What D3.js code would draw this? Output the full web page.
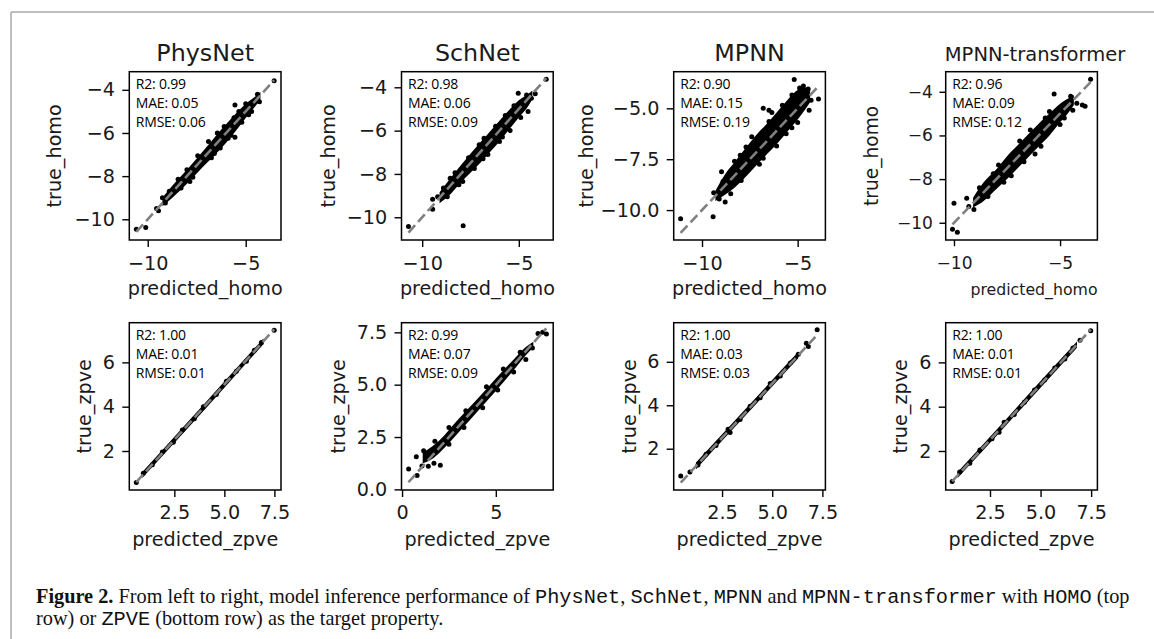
<!DOCTYPE html>
<html>
<head>
<meta charset="utf-8">
<script src="https://cdn.jsdelivr.net/npm/d3@7"></script>
<style>
  body { margin: 0; background: #fff; }
  svg { display: block; }
</style>
</head>
<body>
<svg id="fig" width="1154" height="639"></svg>
<script>
// ---------------- data ----------------
const models = ["PhysNet", "SchNet", "MPNN", "MPNN-transformer"];

// summary metrics per model
const homoR2 = [0.99, 0.98, 0.90, 0.96];
const homoMAE = [0.05, 0.06, 0.15, 0.09];
const homoRMSE = [0.06, 0.09, 0.19, 0.12];
const zpveR2 = [1.00, 0.99, 1.00, 1.00];
const zpveMAE = [0.01, 0.07, 0.03, 0.01];
const zpveRMSE = [0.01, 0.09, 0.03, 0.01];

// axis ranges and ticks
const homoXDomains = [[-10.94, -3.2], [-11.07, -3.22], [-11.48, -3.55], [-10.39, -3.24]];
const homoYDomains = [[-10.96, -3.16], [-11.05, -3.28], [-11.47, -3.2], [-10.79, -3.08]];
const homoXTicks = [[-10, -5], [-10, -5], [-10, -5], [-10, -5]];
const homoYTicks = [[-10, -8, -6, -4], [-10, -8, -6, -4], [-10, -7.5, -5], [-10, -8, -6, -4]];
const zpveXDomains = [[0.25, 7.83], [-0.03, 8.06], [0.09, 7.65], [0.31, 7.81]];
const zpveYDomains = [[0.24, 7.79], [-0.03, 7.96], [0.1, 7.8], [0.24, 7.79]];
const zpveXTicks = [[2.5, 5.0, 7.5], [0, 5], [2.5, 5.0, 7.5], [2.5, 5.0, 7.5]];
const zpveYTicks = [[2, 4, 6], [0, 2.5, 5.0, 7.5], [2, 4, 6], [2, 4, 6]];

// y = x reference segments [from, to]
const homoDiag = [[-10.58, -3.55], [-10.71, -3.58], [-11.12, -3.91], [-10.07, -3.56]];
const zpveDiag = [[0.6, 7.49], [0.34, 7.69], [0.44, 7.3], [0.63, 7.48]];

// dense cores of the predicted/true clouds: [predicted, true low, true high]
const physnetHomoCore = [[-9.25, -9.4, -9.0], [-8.8, -9.05, -8.5], [-8.0, -8.35, -7.7], [-7.0, -7.4, -6.65],
  [-6.5, -6.95, -6.1], [-6.0, -6.45, -5.6], [-5.5, -5.9, -5.1], [-5.0, -5.3, -4.65], [-4.5, -4.75, -4.3], [-4.25, -4.45, -4.1]];
const schnetHomoCore = [[-9.1, -9.35, -8.85], [-8.5, -8.9, -8.15], [-8.0, -8.4, -7.6], [-7.0, -7.5, -6.55],
  [-6.5, -7.0, -6.05], [-6.0, -6.5, -5.55], [-5.5, -5.95, -5.05], [-5.0, -5.4, -4.6], [-4.5, -4.85, -4.3], [-4.3, -4.55, -4.15]];
const mpnnHomoCore = [[-9.3, -9.55, -9.05], [-8.8, -9.25, -8.25], [-8.3, -8.9, -7.65], [-7.8, -8.45, -7.05], [-7.2, -7.85, -6.35],
  [-6.6, -7.25, -5.75], [-6.0, -6.65, -5.1], [-5.5, -6.1, -4.55], [-5.0, -5.55, -4.1], [-4.6, -5.05, -3.98], [-4.35, -4.7, -4.05]];
const transformerHomoCore = [[-9.1, -9.3, -8.85], [-8.6, -9.0, -8.15], [-8.0, -8.45, -7.55], [-7.5, -8.0, -6.95], [-7.0, -7.5, -6.45],
  [-6.5, -7.0, -5.95], [-6.0, -6.5, -5.45], [-5.5, -6.0, -5.0], [-5.0, -5.4, -4.55], [-4.6, -4.95, -4.3], [-4.35, -4.6, -4.15]];

const physnetZpveCore = [[0.9, 0.78, 1.05], [3.0, 2.86, 3.14], [5.0, 4.86, 5.14], [6.95, 6.82, 7.08]];
const schnetZpveCore = [[1.1, 1.25, 1.75], [1.6, 1.45, 2.05], [2.0, 1.75, 2.35], [3.0, 2.7, 3.35], [4.0, 3.7, 4.3],
  [5.0, 4.7, 5.3], [6.0, 5.75, 6.25], [6.6, 6.4, 6.8], [7.0, 6.8, 7.05]];
const mpnnZpveCore = [[1.2, 1.06, 1.36], [3.0, 2.86, 3.16], [5.0, 4.86, 5.16], [6.3, 6.16, 6.46]];
const transformerZpveCore = [[0.9, 0.78, 1.05], [3.0, 2.86, 3.14], [5.0, 4.86, 5.16], [6.8, 6.66, 6.94]];

// individual molecules along the cloud edges and outliers: [predicted, true]
const physnetHomoPts = [[-10.58, -10.46], [-10.1, -10.38], [-9.55, -9.5], [-9.45, -9.6], [-9.25, -9.0], [-9.1, -9.25],
  [-8.9, -8.7], [-8.6, -8.55], [-8.3, -8.55], [-8.0, -7.7], [-7.7, -8.05], [-7.2, -7.35], [-6.9, -6.4], [-6.6, -6.95],
  [-6.3, -6.7], [-6.1, -5.7], [-5.9, -6.25], [-5.55, -6.2], [-5.6, -5.3], [-5.55, -4.7], [-5.2, -5.5], [-5.0, -4.65],
  [-4.7, -5.0], [-4.4, -4.2], [-4.3, -4.55], [-3.55, -3.58], [-8.45, -8.15], [-7.45, -7.05], [-6.75, -7.15],
  [-6.45, -6.0], [-5.75, -6.1], [-5.35, -5.0], [-4.85, -5.15], [-7.85, -8.25]];
const schnetHomoPts = [[-10.71, -10.43], [-9.46, -9.17], [-9.46, -9.63], [-7.88, -10.39], [-9.2, -9.05], [-8.9, -8.65],
  [-8.7, -9.05], [-8.3, -7.95], [-7.9, -8.35], [-7.6, -7.25], [-7.3, -7.75], [-6.8, -6.35], [-6.6, -7.1], [-6.2, -5.8],
  [-6.0, -6.5], [-5.7, -5.3], [-5.45, -6.0], [-5.03, -4.28], [-4.9, -5.4], [-4.52, -5.12], [-4.6, -4.35], [-4.35, -4.5],
  [-4.15, -4.3], [-3.58, -3.63], [-8.55, -8.2], [-8.1, -8.5], [-7.05, -6.65], [-6.85, -7.3], [-5.85, -6.3], [-5.25, -4.85]];
const mpnnHomoPts = [[-11.12, -10.42], [-9.42, -10.33], [-9.39, -9.15], [-8.79, -9.6], [-8.98, -8.12], [-6.8, -5.0],
  [-6.5, -5.1], [-6.35, -5.2], [-5.18, -3.58], [-3.91, -4.54], [-4.9, -4.0], [-4.7, -3.9], [-4.45, -4.05], [-5.3, -4.35],
  [-7.95, -8.55], [-8.3, -7.6], [-7.4, -6.4], [-6.5, -5.65], [-6.1, -6.85], [-5.6, -6.25], [-5.0, -5.7], [-4.4, -5.1],
  [-8.0, -7.3], [-7.0, -7.75], [-8.5, -9.2], [-8.9, -8.6], [-4.3, -4.6], [-4.5, -4.4], [-7.7, -6.9], [-6.8, -7.45],
  [-5.8, -4.85], [-5.3, -5.95], [-9.1, -9.45]];
const transformerHomoPts = [[-10.07, -10.3], [-9.84, -10.44], [-10.0, -9.11], [-9.4, -8.88], [-9.06, -9.39], [-9.3, -9.25],
  [-8.8, -8.4], [-8.4, -8.8], [-7.9, -7.35], [-7.3, -7.85], [-6.9, -6.25], [-6.18, -6.85], [-6.4, -5.75], [-5.9, -6.5],
  [-5.5, -4.9], [-5.28, -4.1], [-5.0, -5.5], [-4.21, -4.53], [-3.95, -4.6], [-3.82, -4.66], [-4.5, -4.2], [-4.4, -4.85],
  [-3.56, -3.43], [-8.15, -7.75], [-7.65, -8.15], [-6.7, -7.2], [-5.7, -5.2], [-4.8, -5.2]];

const physnetZpvePts = [[0.6, 0.58], [0.95, 1.0], [1.4, 1.38], [1.9, 1.95], [2.45, 2.4], [2.9, 2.95], [3.5, 3.45],
  [3.95, 4.0], [4.6, 4.55], [5.1, 5.15], [5.6, 5.6], [6.1, 6.05], [6.5, 6.55], [6.85, 6.9], [7.49, 7.45]];
const schnetZpvePts = [[0.35, 0.97], [0.8, 0.66], [0.76, 1.56], [1.06, 1.12], [1.4, 1.1], [2.04, 1.15], [1.7, 1.25],
  [1.15, 1.85], [1.75, 2.3], [2.5, 2.15], [2.5, 2.95], [3.3, 2.95], [3.4, 3.75], [4.3, 3.9], [4.5, 4.9], [5.1, 4.75],
  [5.4, 5.75], [5.95, 5.6], [6.3, 6.55], [6.6, 6.2], [6.95, 6.75], [7.25, 7.45], [7.5, 7.5], [7.7, 7.42]];
const mpnnZpvePts = [[0.44, 0.74], [0.9, 0.93], [1.3, 1.25], [1.7, 1.75], [2.2, 2.15], [2.8, 2.9], [2.9, 2.75],
  [3.4, 3.35], [3.9, 3.95], [4.4, 4.35], [4.9, 5.0], [5.4, 5.35], [5.9, 5.95], [6.3, 6.35], [6.7, 6.85], [6.8, 6.7],
  [7.24, 7.47]];
const transformerZpvePts = [[0.63, 0.62], [1.0, 1.05], [1.5, 1.45], [2.0, 2.05], [2.6, 2.55], [2.95, 2.85], [3.2, 3.3],
  [3.7, 3.65], [4.2, 4.2], [4.7, 4.75], [5.2, 5.2], [5.7, 5.75], [6.2, 6.15], [6.6, 6.65], [6.95, 7.0], [7.48, 7.43]];

const homoCores = [physnetHomoCore, schnetHomoCore, mpnnHomoCore, transformerHomoCore];
const homoPts = [physnetHomoPts, schnetHomoPts, mpnnHomoPts, transformerHomoPts];
const zpveCores = [physnetZpveCore, schnetZpveCore, mpnnZpveCore, transformerZpveCore];
const zpvePts = [physnetZpvePts, schnetZpvePts, mpnnZpvePts, transformerZpvePts];

// ---------------- layout ----------------
const W = 1154, H = 639;
const svg = d3.select("#fig");
const AXFONT = "'DejaVu Sans', sans-serif";
const NOTEFONT = "'Open Sans', sans-serif";
const BASE_FS = 19.2, TITLE_FS = 23.8;

// page frame
svg.append("line").attr("x1", 11).attr("x2", W).attr("y1", 12).attr("y2", 12)
  .attr("stroke", "#a8a8a8").attr("stroke-width", 1.5);
svg.append("line").attr("x1", 11).attr("x2", 11).attr("y1", 12).attr("y2", H)
  .attr("stroke", "#a8a8a8").attr("stroke-width", 1.5);

const colLeft = [129.3, 401.5, 673.7, 945.7];
const boxW = 151.7;
const rowsLayout = [
  { top: 71.7, h: 168.3, tickBase: 29.5, labelBase: 295, yLabelX: [56, 330, 588, 873], noteTop: 17.6 },
  { top: 322.7, h: 167.3, tickBase: 28.5, labelBase: 546, yLabelX: [86, 340, 631, 902], noteTop: 17.3 }
];
// text scale per panel: tick labels, x label, y label, title
const unitScale = { tick: 1, xlab: 1, ylab: 1, title: 1 };
const fontScale = [
  [unitScale, unitScale, unitScale, { tick: 0.89, xlab: 0.82, ylab: 0.97, title: 0.82 }],
  [unitScale, unitScale, unitScale, unitScale]
];
const titleX = [205.2, 477.4, 749.5, 1035];
const xLabelX = [[205.2, 477.4, 749.5, 1034], [205.2, 477.4, 749.5, 1021.5]];

function fmtFor(ticks) {
  const allInt = ticks.every(Number.isInteger);
  const f = d3.format(allInt ? "d" : ".1f");
  return v => f(v).replace("-", "\u2212");
}

function drawPanel(opt) {
  const { left, top, w, h, xDom, yDom, xTicks, yTicks, core, pts, diag, stats, fs } = opt;
  const x = d3.scaleLinear().domain(xDom).range([left, left + w]);
  const y = d3.scaleLinear().domain(yDom).range([top + h, top]);
  const g = svg.append("g");

  // dense core of the cloud
  g.append("path")
    .datum(core)
    .attr("d", d3.area().x(d => x(d[0])).y0(d => y(d[1])).y1(d => y(d[2])).curve(d3.curveMonotoneX))
    .attr("fill", "#000");

  // individual points
  g.selectAll("circle.pt").data(pts).join("circle")
    .attr("class", "pt")
    .attr("cx", d => x(d[0])).attr("cy", d => y(d[1])).attr("r", 2.5)
    .attr("fill", "#000");

  // y = x reference
  g.append("line")
    .attr("x1", x(diag[0])).attr("y1", y(diag[0]))
    .attr("x2", x(diag[1])).attr("y2", y(diag[1]))
    .attr("stroke", "#808080").attr("stroke-width", 2.6)
    .attr("stroke-dasharray", "10,4.5");

  // axes
  const ts = fs.tick;
  const tickFs = BASE_FS * ts;
  const xAxis = d3.axisBottom(x).tickValues(xTicks).tickFormat(fmtFor(xTicks))
    .tickSize(7 * ts).tickPadding(opt.tickBase - 7 * ts - 0.71 * tickFs);
  const yAxis = d3.axisLeft(y).tickValues(yTicks).tickFormat(fmtFor(yTicks))
    .tickSize(7 * ts).tickPadding(7.3 * ts);
  const gx = g.append("g").attr("transform", `translate(0,${top + h})`).call(xAxis);
  const gy = g.append("g").attr("transform", `translate(${left},0)`).call(yAxis);
  [gx, gy].forEach(a => {
    a.select(".domain").remove();
    a.selectAll(".tick line").attr("stroke", "#000").attr("stroke-width", 1.4);
    a.selectAll(".tick text").attr("fill", "#1a1a1a")
      .style("font-family", AXFONT).style("font-size", tickFs + "px");
  });

  // frame of the axes
  g.append("rect").attr("x", left).attr("y", top).attr("width", w).attr("height", h)
    .attr("fill", "none").attr("stroke", "#000").attr("stroke-width", 1.5);

  // metrics text
  const noteLines = [`R2: ${stats[0].toFixed(2)}`, `MAE: ${stats[1].toFixed(2)}`, `RMSE: ${stats[2].toFixed(2)}`];
  g.selectAll("text.note").data(noteLines).join("text")
    .attr("class", "note")
    .attr("x", left + 6.5)
    .attr("y", (d, i) => top + opt.noteTop + i * 19)
    .attr("fill", "#000")
    .style("font-family", NOTEFONT).style("font-size", "14px").style("letter-spacing", "-0.2px")
    .text(d => d);

  // axis labels
  g.append("text")
    .attr("x", opt.xLabelX).attr("y", opt.labelBase)
    .attr("text-anchor", "middle").attr("fill", "#1a1a1a")
    .style("font-family", AXFONT).style("font-size", (BASE_FS * fs.xlab) + "px")
    .text(opt.xLabel);
  const cy = top + h / 2;
  g.append("text")
    .attr("x", opt.yLabelX).attr("y", cy)
    .attr("transform", `rotate(-90,${opt.yLabelX},${cy})`)
    .attr("dy", "0.26em")
    .attr("text-anchor", "middle").attr("fill", "#1a1a1a")
    .style("font-family", AXFONT).style("font-size", (BASE_FS * fs.ylab) + "px")
    .text(opt.yLabel);

  if (opt.title) {
    g.append("text")
      .attr("x", opt.titleX).attr("y", 61)
      .attr("text-anchor", "middle").attr("fill", "#1a1a1a")
      .style("font-family", AXFONT).style("font-size", (TITLE_FS * fs.title) + "px")
      .text(opt.title);
  }
}

models.forEach((m, i) => {
  const r0 = rowsLayout[0];
  drawPanel({
    left: colLeft[i], top: r0.top, w: boxW, h: r0.h,
    xDom: homoXDomains[i], yDom: homoYDomains[i], xTicks: homoXTicks[i], yTicks: homoYTicks[i],
    core: homoCores[i], pts: homoPts[i], diag: homoDiag[i],
    stats: [homoR2[i], homoMAE[i], homoRMSE[i]], fs: fontScale[0][i],
    tickBase: r0.tickBase, labelBase: r0.labelBase, noteTop: r0.noteTop,
    xLabel: "predicted_homo", yLabel: "true_homo", xLabelX: xLabelX[0][i], yLabelX: r0.yLabelX[i],
    title: m, titleX: titleX[i]
  });
  const r1 = rowsLayout[1];
  drawPanel({
    left: colLeft[i], top: r1.top, w: boxW, h: r1.h,
    xDom: zpveXDomains[i], yDom: zpveYDomains[i], xTicks: zpveXTicks[i], yTicks: zpveYTicks[i],
    core: zpveCores[i], pts: zpvePts[i], diag: zpveDiag[i],
    stats: [zpveR2[i], zpveMAE[i], zpveRMSE[i]], fs: fontScale[1][i],
    tickBase: r1.tickBase, labelBase: r1.labelBase, noteTop: r1.noteTop,
    xLabel: "predicted_zpve", yLabel: "true_zpve", xLabelX: xLabelX[1][i], yLabelX: r1.yLabelX[i]
  });
});

// ---------------- caption ----------------
const SERIF = "'Liberation Serif', 'Times New Roman', serif";
const MONO = "'Liberation Mono', 'DejaVu Sans Mono', monospace";
const captionLines = [
  [["Figure 2.", "b"], [" From left to right, model inference performance of ", "r"], ["PhysNet", "m"], [", ", "r"],
   ["SchNet", "m"], [", ", "r"], ["MPNN", "m"], [" and ", "r"], ["MPNN-transformer", "m"], [" with ", "r"],
   ["HOMO", "m"], [" (top", "r"]],
  [["row) or ", "r"], ["ZPVE", "m"], [" (bottom row) as the target property.", "r"]]
];
const capX = 36, capBase = [603, 625], capWidth = 1094;
const capNodes = captionLines.map((parts, li) => {
  const t = svg.append("text").attr("x", capX).attr("y", capBase[li]).attr("fill", "#111")
    .style("font-size", "16px");
  parts.forEach(([s, kind]) => {
    t.append("tspan")
      .style("font-family", kind === "m" ? MONO : SERIF)
      .style("font-weight", kind === "b" ? "bold" : "normal")
      .text(s);
  });
  return t;
});
// fit the first caption line to the text column width
const w0 = capNodes[0].node().getComputedTextLength();
const capFs = 16 * capWidth / w0;
capNodes.forEach(t => t.style("font-size", capFs + "px"));
</script>
</body>
</html>
